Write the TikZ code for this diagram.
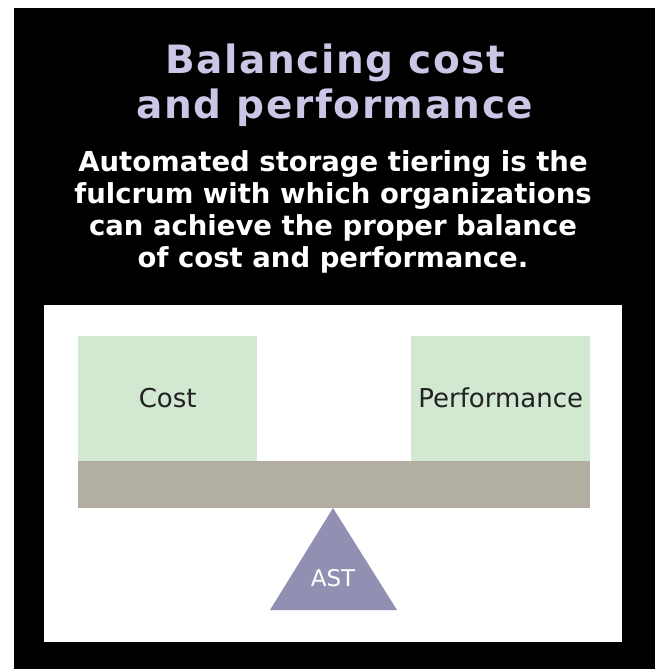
\documentclass[tikz,border=0pt]{standalone}
\usepackage{fontspec}
\setmainfont{DejaVu Sans}
\newfontfamily\headfont[LetterSpace=4]{DejaVu Sans}
\usetikzlibrary{positioning}
\definecolor{titlelav}{HTML}{CBC6E6}
\definecolor{boxgreen}{HTML}{D2E8D1}
\definecolor{beamgray}{HTML}{B2AFA2}
\definecolor{fulcrum}{HTML}{9190B2}
\definecolor{labelgray}{HTML}{222222}
\tikzset{
    weight/.style={rectangle, fill=boxgreen, minimum width=179pt, minimum height=125pt, inner sep=0pt, text=labelgray, font=\fontsize{26}{30}\selectfont},
    beam/.style={rectangle, fill=beamgray, minimum width=512pt, minimum height=47pt, inner sep=0pt},
    heading/.style={align=center, text=titlelav, font=\headfont\fontsize{39}{45}\selectfont\bfseries},
    subheading/.style={align=center, text=white, font=\fontsize{27.5}{32}\selectfont\bfseries}
}

\begin{document}
\begin{tikzpicture}[x=1pt, y=-1pt]

    % Background
    \useasboundingbox (0,0) rectangle (655,669);
    \fill[white] (0,0) rectangle (655,669);
    \fill[black] (14,8) rectangle (655,669);
    \fill[white] (44,305) rectangle (622,642);

    % Texts
    \node[heading, anchor=base] (T) at (335,118) {Balancing cost\\and performance};
    \node[subheading, anchor=base] (S) at (333,267) {Automated storage tiering is the\\fulcrum with which organizations\\can achieve the proper balance\\of cost and performance.};

    % Nodes
    \node[beam, anchor=north west] (B) at (78,461) {};
    \node[weight, anchor=south west] (C) at (B.north west) {Cost};
    \node[weight, anchor=south east] (P) at (B.north east) {Performance};

    % Fulcrum
    \fill[fulcrum] (333,508) -- (397,610) -- (270,610) -- cycle;
    \node[text=white, font=\fontsize{23}{26}\selectfont] (A) at (333,578) {AST};

\end{tikzpicture}
\end{document}
